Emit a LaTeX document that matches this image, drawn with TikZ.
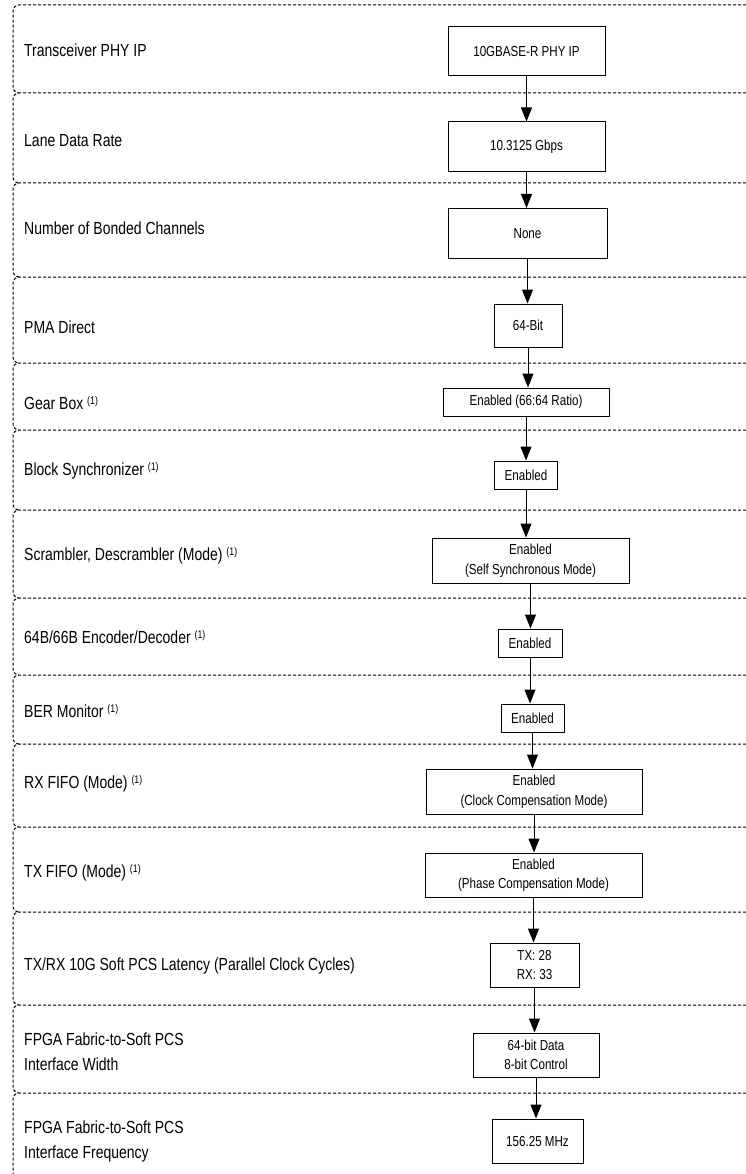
\documentclass[tikz,border=0pt]{standalone}
\usepackage{fontspec}
\setmainfont{Liberation Sans}[FakeStretch=0.8]
\newfontfamily\boxfont{Liberation Sans}[FakeStretch=0.8]
\usetikzlibrary{arrows.meta}
\newcommand{\myfn}{\ {\fontsize{11}{11}\selectfont\raisebox{5pt}{(1)}}}
\begin{document}
\begin{tikzpicture}[x=1pt,y=-1pt,
  band/.style={draw=black, line width=1pt, dash pattern=on 3pt off 2pt, rounded corners=6pt},
  bx/.style={draw, line width=1pt, inner sep=0pt, align=center, font=\boxfont\fontsize{14.5}{19.5}\selectfont},
  lbl/.style={inner sep=0pt, anchor=base west, font=\fontsize{17.5}{25}\selectfont},
  arr/.style={line width=1pt, -{Triangle[length=14pt,width=11pt]}}]
\useasboundingbox (0,0) rectangle (746,1174);
% bands
\foreach \t/\b in {5/93, 93/183, 183/277, 277/363, 363/430, 430/510, 510/598, 598/675, 675/744, 744/827, 827/912, 912/1005, 1005/1093}{
  \draw[band] (746,\t) -- (13,\t) -- (13,\b) -- (19,\b);
}
\draw[band] (746,1093) -- (13,1093) -- (13,1174);
% labels
\node[lbl] (l1) at (24,57) {Transceiver PHY IP};
\node[lbl] (l2) at (24,147) {Lane Data Rate};
\node[lbl] (l3) at (24,235) {Number of Bonded Channels};
\node[lbl] (l4) at (24,333) {PMA Direct};
\node[lbl] (l5) at (24,409) {Gear Box\myfn};
\node[lbl] (l6) at (24,475) {Block Synchronizer\myfn};
\node[lbl] (l7) at (24,560) {Scrambler, Descrambler (Mode)\myfn};
\node[lbl] (l8) at (24,643) {64B/66B Encoder/Decoder\myfn};
\node[lbl] (l9) at (24,717) {BER Monitor\myfn};
\node[lbl] (l10) at (24,788) {RX FIFO (Mode)\myfn};
\node[lbl] (l11) at (24,877) {TX FIFO (Mode)\myfn};
\node[lbl] (l12) at (24,970) {TX/RX 10G Soft PCS Latency (Parallel Clock Cycles)};
\node[lbl] (l13) at (24,1045) {\begin{tabular}[t]{@{}l@{}}FPGA Fabric-to-Soft PCS\\Interface Width\end{tabular}};
\node[lbl] (l14) at (24,1133) {\begin{tabular}[t]{@{}l@{}}FPGA Fabric-to-Soft PCS\\Interface Frequency\end{tabular}};
% boxes
\node[bx, minimum width=157pt, minimum height=49pt] (b1) at (526.5,51.5) {10GBASE-R PHY IP};
\node[bx, minimum width=157pt, minimum height=50pt] (b2) at (526.5,147) {10.3125 Gbps};
\node[bx, minimum width=159pt, minimum height=50pt] (b3) at (527.5,233.5) {None};
\node[bx, minimum width=68pt, minimum height=43pt] (b4) at (528,325.5) {64-Bit};
\node[bx, minimum width=166pt, minimum height=28pt] (b5) at (526,402) {Enabled (66:64 Ratio)};
\node[bx, minimum width=63pt, minimum height=28pt] (b6) at (526,475) {Enabled};
\node[bx, minimum width=197pt, minimum height=45pt] (b7) at (530.5,560.5) {Enabled\\(Self Synchronous Mode)};
\node[bx, minimum width=64pt, minimum height=28pt] (b8) at (530,643) {Enabled};
\node[bx, minimum width=63pt, minimum height=28pt] (b9) at (532.5,718) {Enabled};
\node[bx, minimum width=216pt, minimum height=45pt] (b10) at (534,791.5) {Enabled\\(Clock Compensation Mode)};
\node[bx, minimum width=217pt, minimum height=44pt] (b11) at (533.5,875) {Enabled\\(Phase Compensation Mode)};
\node[bx, minimum width=89pt, minimum height=44pt] (b12) at (534.5,965) {TX: 28\\RX: 33};
\node[bx, minimum width=126pt, minimum height=44pt] (b13) at (536,1055) {64-bit Data\\8-bit Control};
\node[bx, minimum width=91pt, minimum height=44pt] (b14) at (537.5,1141) {156.25 MHz};
% arrows
\foreach \a/\b in {b1/b2, b2/b3, b3/b4, b4/b5, b5/b6, b6/b7, b7/b8, b8/b9, b9/b10, b10/b11, b11/b12, b12/b13, b13/b14}{
  \draw[arr] (\a.south) -- (\a.south |- \b.north);
}
\end{tikzpicture}
\end{document}
